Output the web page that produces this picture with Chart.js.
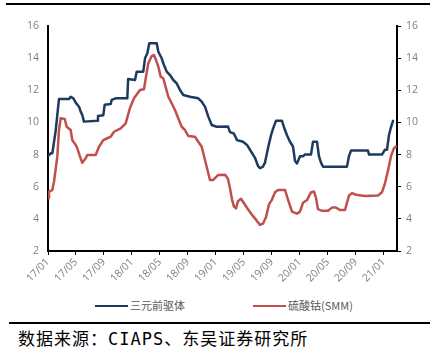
<!DOCTYPE html>
<html><head><meta charset="utf-8">
<script src="https://cdn.jsdelivr.net/npm/chart.js@4.4.1/dist/chart.umd.min.js"></script>
<style>
html,body{margin:0;padding:0;background:#fff;}
#wrap{position:relative;width:441px;height:357px;overflow:hidden;background:#fff;}
#c{position:absolute;left:0;top:0;}
.rule{position:absolute;background:#000;}
.leg{position:absolute;top:298px;height:14px;font-family:"Noto Sans CJK SC","Noto Sans",sans-serif;font-size:11px;color:#595959;line-height:14px;white-space:nowrap;}
.leg span.ln{display:inline-block;width:33px;height:2px;vertical-align:middle;margin-right:2px;position:relative;top:-1px;}
#src{position:absolute;left:18px;top:328px;font-family:"DejaVu Sans Mono","Noto Sans CJK SC",monospace;font-size:17px;letter-spacing:1px;color:#000;white-space:nowrap;line-height:22px;}
</style></head>
<body>
<div id="wrap">
  <div class="rule" style="left:6px;top:3px;width:424px;height:2px;"></div>
  <canvas id="c" width="441" height="295"></canvas>
  <div class="leg" id="leg1" style="left:95px;"><span class="ln" style="background:#1F3A5F"></span><span id="t1"></span></div>
  <div class="leg" id="leg2" style="left:253px;"><span class="ln" style="background:#C0504D"></span><span id="t2"></span></div>
  <div class="rule" style="left:9px;top:322px;width:421px;height:2px;"></div>
  <div id="src">数据来源：CIAPS、东吴证券研究所</div>
</div>
<script>
const seriesNames = ['三元前驱体', '硫酸钴(SMM)'];
const tickLabels = ['17/01','17/05','17/09','18/01','18/05','18/09','19/01','19/05','19/09','20/01','20/05','20/09','21/01'];
const tickMonths = [0,4,8,12,16,20,24,28,32,36,40,44,48];
const yTicks = [2,4,6,8,10,12,14,16];

// 三元前驱体 (months since 2017-01, price)
const precursorMonths = [0,0.38,0.62,1.1,1.57,3.0,3.24,3.62,3.96,4.43,4.67,4.9,5.14,7.04,7.14,7.9,8.1,8.96,9.1,9.67,11.33,11.45,12.43,12.67,13.61,13.86,14.19,14.47,15.53,15.76,16.24,16.47,16.96,17.43,17.9,18.39,18.86,19.33,20.29,21.47,21.96,22.43,22.9,23.39,24.1,25.71,26.0,26.57,27.0,27.86,28.43,28.86,29.57,30.0,30.29,30.71,31.0,31.43,31.86,32.14,32.57,33.43,33.71,34.14,34.57,35.0,35.29,35.57,36.0,36.43,36.71,37.57,37.86,38.43,38.71,39.0,39.29,42.71,43.0,43.29,45.71,45.86,47.71,48.14,48.43,48.71,49.0,49.29];
const precursorPrices = [7.9,8.08,8.08,9.5,11.46,11.46,11.6,11.5,11.23,10.98,10.67,10.46,10.05,10.1,10.4,10.45,11.1,11.15,11.4,11.5,11.5,12.7,12.64,13.16,13.16,13.99,14.3,14.92,14.92,14.4,13.99,13.68,13.16,12.95,12.64,12.43,12.02,11.71,11.6,11.5,11.29,10.98,10.36,9.84,9.73,9.75,9.4,9.3,8.9,8.8,8.6,8.3,7.8,7.3,7.15,7.25,7.5,8.4,9.2,9.6,10.1,10.1,9.7,9.2,8.8,8.5,7.6,7.45,7.9,7.9,8.0,8.0,8.8,8.8,7.9,7.5,7.25,7.25,7.9,8.25,8.25,8.0,8.0,8.3,8.3,9.2,9.7,10.1];

// 硫酸钴(SMM)
const sulfateMonths = [0,0.14,0.61,0.86,1.33,1.57,1.81,2.39,2.67,3.24,3.47,3.96,4.19,4.57,4.9,5.39,5.61,6.81,7.29,7.9,8.39,8.96,9.43,10.39,11.1,11.71,12.29,13.14,13.71,14.0,14.33,14.81,15.14,15.43,15.76,16.1,16.47,16.86,17.19,17.67,18.14,18.61,19.1,19.57,20.04,21.0,21.47,21.96,22.43,23.14,23.61,24.33,25.29,25.71,26.0,26.29,26.57,26.86,27.14,27.57,28.0,28.57,29.14,29.71,30.29,30.71,31.14,31.57,32.0,32.43,32.86,33.86,34.29,34.86,35.57,36.0,36.43,37.0,37.57,38.0,38.29,38.57,39.14,40.0,40.57,41.14,41.71,42.43,43.0,43.43,44.0,45.29,47.14,47.71,48.14,48.57,49.0,49.43,49.71];
const sulfatePrices = [5.28,5.69,5.79,6.31,7.87,9.53,10.26,10.21,9.73,9.53,8.9,8.6,8.39,7.87,7.49,7.77,7.97,7.97,8.49,8.9,9.0,9.11,9.42,9.63,9.94,10.9,11.5,12.02,12.06,12.85,13.68,14.13,14.2,13.88,13.47,12.85,12.75,12.12,11.6,11.19,10.77,10.26,9.73,9.53,9.16,9.11,8.8,8.49,7.66,6.42,6.42,6.73,6.75,6.5,5.9,5.2,4.76,4.65,5.1,5.25,4.97,4.6,4.25,3.95,3.62,3.7,4.1,4.9,5.2,5.65,5.8,5.8,5.2,4.45,4.32,4.45,5.0,5.17,5.65,5.7,5.3,4.6,4.5,4.5,4.7,4.7,4.55,4.55,5.45,5.6,5.5,5.42,5.45,5.65,6.2,7.0,7.9,8.4,8.5];

document.getElementById('t1').textContent = seriesNames[0];
document.getElementById('t2').textContent = seriesNames[1];

const tickColor = '#7F7F7F';
const tickFont = {family: 'Open Sans', size: 10.5};

new Chart(document.getElementById('c'), {
  type: 'line',
  data: {
    datasets: [
      {label: seriesNames[0], data: precursorMonths.map((m,i)=>({x:m, y:precursorPrices[i]})), borderColor:'#1F3A5F', backgroundColor:'#1F3A5F', yAxisID:'y'},
      {label: seriesNames[1], data: sulfateMonths.map((m,i)=>({x:m, y:sulfatePrices[i]})), borderColor:'#C0504D', backgroundColor:'#C0504D', yAxisID:'y1'}
    ]
  },
  options: {
    responsive:false, animation:false,
    layout:{padding:{top:26,left:0,right:0,bottom:0}},
    plugins:{legend:{display:false}, tooltip:{enabled:false}},
    elements:{point:{radius:0}, line:{tension:0, borderWidth:2.5, borderJoinStyle:'round', borderCapStyle:'round'}},
    scales:{
      x:{type:'linear', min:0, max:49.86,
        afterBuildTicks: s => { s.ticks = tickMonths.map(v => ({value:v})); },
        afterFit: s => { s.height = 44; },
        ticks:{autoSkip:false, minRotation:45, maxRotation:45, color:tickColor, font:tickFont, padding:1,
          callback: v => tickLabels[tickMonths.indexOf(v)]},
        grid:{display:true, drawOnChartArea:false, drawTicks:true, tickLength:4, color:'#000', lineWidth:1},
        border:{display:true, color:'#000', width:2}},
      y:{position:'left', min:2, max:16,
        afterBuildTicks: s => { s.ticks = yTicks.map(v => ({value:v})); },
        afterFit: s => { s.width = 48; },
        ticks:{color:tickColor, font:tickFont, padding:9},
        grid:{display:false, drawTicks:false},
        border:{display:true, color:'#000', width:2}},
      y1:{position:'right', min:2, max:16,
        afterBuildTicks: s => { s.ticks = yTicks.map(v => ({value:v})); },
        afterFit: s => { s.width = 44; },
        ticks:{color:tickColor, font:tickFont, padding:5},
        grid:{display:true, drawOnChartArea:false, drawTicks:true, tickLength:4, color:'#000', lineWidth:1},
        border:{display:true, color:'#000', width:2}}
    }
  }
});
</script>
</body></html>
